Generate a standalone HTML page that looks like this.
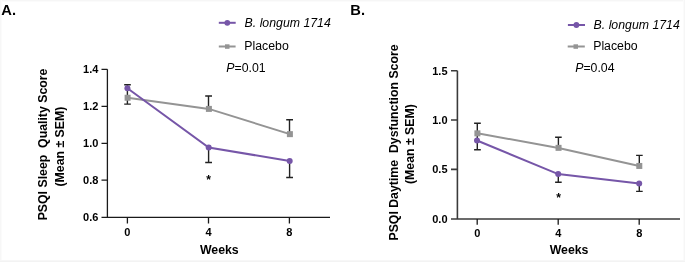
<!DOCTYPE html>
<html>
<head>
<meta charset="utf-8">
<style>
html,body{margin:0;padding:0;background:#fff;}
body{width:685px;height:262px;overflow:hidden;position:relative;}
svg{position:absolute;left:0;top:0;display:block;will-change:transform;}
text{font-family:"Liberation Sans", sans-serif;fill:#000;}
.b{font-weight:bold;}
.tk{font-weight:bold;font-size:11px;}
.lab{font-weight:bold;font-size:12.3px;}
.leg{font-size:12.3px;}
</style>
</head>
<body>
<svg width="685" height="262" viewBox="0 0 685 262">
<!-- faint frame -->
<rect x="0" y="0" width="685" height="1" fill="#f6f6f6"/>
<rect x="0" y="1" width="685" height="1" fill="#fbfbfb"/>
<rect x="0" y="0" width="1" height="262" fill="#f7f7f7"/>
<rect x="1" y="0" width="1" height="262" fill="#fbfbfb"/>
<rect x="684" y="0" width="1" height="262" fill="#f6f6f6"/>
<rect x="683" y="0" width="1" height="262" fill="#fbfbfb"/>
<rect x="0" y="261" width="685" height="1" fill="#f3f3f3"/>
<rect x="0" y="260" width="685" height="1" fill="#f7f7f7"/>

<!-- ================= PANEL A ================= -->
<text class="b" x="1.3" y="15" font-size="14.7">A.</text>

<!-- axes -->
<g stroke="#1a1a1a" stroke-width="1.3" fill="none">
  <path d="M107.4 69.3 V217.3"/>
  <path d="M101.5 217.3 H330"/>
  <path d="M101.5 69.3 H107.4 M101.5 106.3 H107.4 M101.5 143.3 H107.4 M101.5 180.2 H107.4"/>
  <path d="M127.4 217.3 V223.5 M208.5 217.3 V223.5 M289.4 217.3 V223.5"/>
</g>
<g class="tk" text-anchor="end">
  <text x="98.4" y="73.2">1.4</text>
  <text x="98.4" y="110.2">1.2</text>
  <text x="98.4" y="147.2">1.0</text>
  <text x="98.4" y="184.1">0.8</text>
  <text x="98.4" y="221.1">0.6</text>
</g>
<g class="tk" text-anchor="middle">
  <text x="127.4" y="236">0</text>
  <text x="208.5" y="236">4</text>
  <text x="289.4" y="236">8</text>
</g>
<text class="lab" x="219.3" y="253.9" text-anchor="middle">Weeks</text>
<text class="lab" transform="translate(47.2 144.5) rotate(-90)" text-anchor="middle" xml:space="preserve">PSQI Sleep  Quality Score</text>
<text class="lab" transform="translate(63.9 146.6) rotate(-90)" text-anchor="middle">(Mean ± SEM)</text>

<!-- data A -->
<polyline points="127.6,97.8 208.9,108.9 289.9,134.1" fill="none" stroke="#949494" stroke-width="2"/>
<polyline points="127.4,88.2 208.7,147.6 289.7,160.9" fill="none" stroke="#7656a8" stroke-width="2"/>
<g stroke="#222" stroke-width="1.4" fill="none">
  <path d="M127.4 84.8 V104.1 M124.2 84.8 H130.8 M124.2 104.1 H130.8"/>
  <path d="M208.5 96 V108 M205.2 96 H212"/>
  <path d="M208.6 148 V162.5 M205.2 162.5 H212"/>
  <path d="M289.5 119.8 V133 M286.2 119.8 H293"/>
  <path d="M289.6 161 V177.5 M286.2 177.5 H293"/>
</g>
<g fill="#949494">
  <rect x="124.6" y="94.75" width="6" height="6"/>
  <rect x="205.9" y="105.9" width="6" height="6"/>
  <rect x="286.9" y="131.15" width="6" height="6"/>
</g>
<g fill="#7656a8">
  <circle cx="127.4" cy="88.2" r="3"/>
  <circle cx="208.7" cy="147.6" r="3"/>
  <circle cx="289.7" cy="160.9" r="3"/>
</g>
<text class="b" x="208.5" y="184.4" font-size="12" text-anchor="middle">*</text>

<!-- legend A -->
<path d="M218.8 22.8 H235.7" stroke="#7656a8" stroke-width="2"/>
<circle cx="227.3" cy="22.8" r="2.9" fill="#7656a8"/>
<text class="leg" x="244.6" y="27.1" font-style="italic">B. longum 1714</text>
<path d="M218.8 46.5 H235.6" stroke="#949494" stroke-width="2"/>
<rect x="225" y="44.3" width="4.5" height="4.5" fill="#949494"/>
<text class="leg" x="244.3" y="50.3">Placebo</text>
<text class="leg" x="226.3" y="71.6"><tspan font-style="italic">P</tspan>=0.01</text>

<!-- ================= PANEL B ================= -->
<text class="b" x="350.3" y="15.3" font-size="14.7">B.</text>

<g stroke="#3a3a3a" stroke-width="1.6" fill="none">
  <path d="M457.4 70.7 V219"/>
  <path d="M451 219 H680"/>
  <path d="M451 70.7 H457.4 M451 120 H457.4 M451 169.4 H457.4"/>
</g>
<g stroke="#1a1a1a" stroke-width="1.3" fill="none">
  <path d="M477.2 219 V224.7 M558.2 219 V224.7 M639.2 219 V224.7"/>
</g>
<g class="tk" text-anchor="end">
  <text x="447.5" y="74.6">1.5</text>
  <text x="447.5" y="123.9">1.0</text>
  <text x="447.5" y="173.3">0.5</text>
  <text x="447.5" y="222.8">0.0</text>
</g>
<g class="tk" text-anchor="middle">
  <text x="477.3" y="237.3">0</text>
  <text x="558.2" y="237.3">4</text>
  <text x="639.2" y="237.3">8</text>
</g>
<text class="lab" x="569.1" y="253.9" text-anchor="middle">Weeks</text>
<text class="lab" transform="translate(397.6 142.5) rotate(-90)" text-anchor="middle" xml:space="preserve">PSQI Daytime  Dysfunction Score</text>
<text class="lab" transform="translate(413.5 144.1) rotate(-90)" text-anchor="middle">(Mean ± SEM)</text>

<!-- data B -->
<polyline points="477.4,133.3 558.5,147.9 639.3,166" fill="none" stroke="#949494" stroke-width="2"/>
<polyline points="477.0,140.5 558.2,174.1 639.2,183.5" fill="none" stroke="#7656a8" stroke-width="2"/>
<g stroke="#222" stroke-width="1.4" fill="none">
  <path d="M477.3 123.3 V149.7 M474.1 123.3 H480.8 M474.1 149.7 H480.8"/>
  <path d="M558.4 137.2 V147 M555.1 137.2 H561.7"/>
  <path d="M558.3 175 V182.3 M555.1 182.3 H561.7"/>
  <path d="M639.3 155.4 V165 M636.1 155.4 H642.7"/>
  <path d="M639.3 184 V191.4 M636.1 191.4 H642.7"/>
</g>
<g fill="#949494">
  <rect x="474.4" y="130.35" width="6" height="6"/>
  <rect x="555.55" y="144.85" width="6" height="6"/>
  <rect x="636.3" y="162.95" width="6" height="6"/>
</g>
<g fill="#7656a8">
  <circle cx="477.0" cy="140.5" r="3"/>
  <circle cx="558.2" cy="174.1" r="3"/>
  <circle cx="639.2" cy="183.5" r="3"/>
</g>
<text class="b" x="558.7" y="201.6" font-size="12" text-anchor="middle">*</text>

<!-- legend B -->
<path d="M567.9 25 H585" stroke="#7656a8" stroke-width="2"/>
<circle cx="576.4" cy="25" r="2.9" fill="#7656a8"/>
<text class="leg" x="593.6" y="29.1" font-style="italic">B. longum 1714</text>
<path d="M567.7 46.5 H584.8" stroke="#949494" stroke-width="2"/>
<rect x="573.5" y="44.3" width="4.5" height="4.5" fill="#949494"/>
<text class="leg" x="593.2" y="50.3">Placebo</text>
<text class="leg" x="575.2" y="71.8"><tspan font-style="italic">P</tspan>=0.04</text>
</svg>
</body>
</html>
